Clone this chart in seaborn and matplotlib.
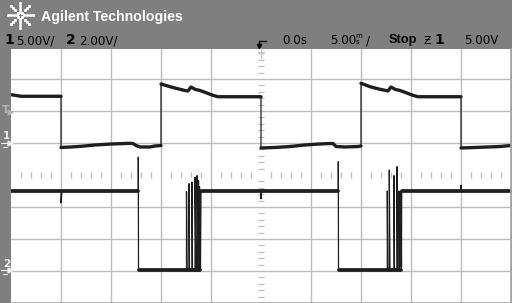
import numpy as np
import pandas as pd
import matplotlib
matplotlib.use("Agg")
import matplotlib.pyplot as plt
import seaborn as sns

# ---------------- data ----------------
# time in ms (5 ms/div, screen spans -25 .. 25 ms)
ch1_t = [-25, -24, -20, -20, -19, -18, -16.6, -15, -14.1, -13.1, -12.8, -12.5, -12.1, -11.1, -10.6, -10,
         -10, -9.1, -8.1, -7.6, -7.3, -7.0, -6.6, -6.1, -5.6, -4.9, -4.3, 0,
         0, 1.4, 2.9, 4.4, 5.4, 6.4, 7.2, 7.5, 8.4, 9.7, 10,
         10, 10.9, 11.9, 12.5, 12.7, 13.0, 13.4, 13.9, 14.4, 15.1, 15.7, 20,
         20, 21.9, 23.9, 25]
# channel 1 volts (5 V/div)
ch1_v = [7.55, 7.3, 7.3, -0.70, -0.62, -0.52, -0.31, -0.16, -0.11, -0.05, -0.08, -0.39, -0.62, -0.62, -0.47, -0.39,
         9.22, 8.80, 8.39, 8.20, 8.13, 8.75, 8.39, 8.20, 7.92, 7.50, 7.23, 7.23,
         -0.78, -0.70, -0.55, -0.31, -0.20, -0.11, -0.08, -0.55, -0.62, -0.55, -0.47,
         9.33, 8.80, 8.39, 8.20, 8.13, 8.75, 8.39, 8.20, 7.92, 7.50, 7.23, 7.23,
         -0.78, -0.67, -0.55, -0.39]

ch2_t = [-25, -20, -20, -19.9, -12.27, -12.27, -12.25,
         -7.45, -7.45, -7.4, -7.2, -7.2, -7.15, -6.9, -6.9, -6.85, -6.6, -6.6, -6.5,
         -6.4, -6.4, -6.3, -6.25, -6.25, -6.2, -6.15, -6.15, -6.05, -6.0,
         0, 0, 0.05, 7.73, 7.73, 7.75,
         12.63, 12.63, 12.68, 12.83, 12.83, 12.9, 13.3, 13.3, 13.35, 13.6, 13.6, 13.65,
         13.8, 13.8, 13.85, 14.0, 14.0, 14.05, 14.07, 20, 20, 20.05, 25]
# channel 2 volts (2 V/div)
ch2_v = [4.94, 4.94, 4.2, 4.94, 4.94, 7.06, 0.0,
         0.0, 4.9, 0.0, 0.0, 5.4, 0.0, 0.0, 5.5, 0.0, 0.0, 5.8, 0.0,
         0.0, 5.9, 0.0, 0.0, 5.6, 0.0, 0.0, 5.2, 0.0, 4.94,
         4.94, 4.45, 4.94, 4.94, 6.77, 0.0,
         0.0, 4.94, 0.0, 0.0, 6.25, 0.0, 0.0, 5.9, 0.0, 0.0, 6.46, 0.0,
         0.0, 4.94, 0.0, 0.0, 4.94, 0.2, 4.94, 4.94, 5.3, 4.94, 4.94]

ch1_scale, ch1_ground = 5.0, 1.0      # V/div, ground position (div)
ch2_scale, ch2_ground = 2.0, -2.97

header_left = ["1", "5.00V/", "2", "2.00V/"]
header_right = ["0.0s", "5.00", "m", "s", "/", "Stop", "1", "5.00V"]

# ---------------- helpers ----------------
W, H = 512, 303
def fx(x): return x / W
def fy(y): return 1 - y / H

def frame(t, v, scale, ground):
    df = pd.DataFrame({"t": t, "v": v})
    df["d"] = df["v"] / scale + ground
    dt = df["t"].diff().fillna(1.0)
    dd = df["d"].diff().abs().fillna(0.0)
    edge = (dt < 0.12) & (dd > 0.08)
    df["seg"] = edge.cumsum()
    return df

d1 = frame(ch1_t, ch1_v, ch1_scale, ch1_ground)
d2 = frame(ch2_t, ch2_v, ch2_scale, ch2_ground)

# ---------------- figure ----------------
sns.set_theme(style="white")
plt.rcParams["font.family"] = ["DejaVu Sans"]
GRAY = "#7f7f7f"
fig = plt.figure(figsize=(W / 100, H / 100), dpi=100, facecolor=GRAY)
ax = fig.add_axes([fx(11), 0, 500 / W, 254 / H])
ax.set_facecolor("white")
ax.set_xlim(-25, 25)
ax.set_ylim(-4, 4 - 2 / 32)

# graticule
ax.set_xticks([-20, -15, -10, -5, 5, 10, 15, 20])
ax.set_yticks([-3, -2, -1, 1, 2, 3])
ax.grid(True, color="#bcbcbc", lw=1.0)
ax.tick_params(length=0, labelbottom=False, labelleft=False)
for s in ["left", "top"]:
    ax.spines[s].set_visible(False)
for s in ["bottom", "right"]:
    ax.spines[s].set_color("#a8a8a8")
    ax.spines[s].set_linewidth(1.2)

tx = [t for t in range(-24, 25) if t % 5 != 0]
ax.plot(tx, [0] * len(tx), ls="none", marker="|", ms=4.5, mew=0.9, color="#bcbcbc", zorder=1)
ty = [k / 5 for k in range(-20, 20) if k % 5 != 0]
ax.plot([0] * len(ty), ty, ls="none", marker="_", ms=4.5, mew=0.9, color="#bcbcbc", zorder=1)

TRACE = "#1e1e1e"
# thin full traces (edges)
for df in (d1, d2):
    sns.lineplot(data=df, x="t", y="d", sort=False, estimator=None, color=TRACE, lw=0.9, ax=ax, legend=False)
# thick flat levels
sns.lineplot(data=d1, x="t", y="d", units="seg", sort=False, estimator=None, color=TRACE, lw=2.4, ax=ax, legend=False)
sns.lineplot(data=d2, x="t", y="d", units="seg", sort=False, estimator=None, color=TRACE, lw=2.7, ax=ax, legend=False)
ax.set_xlabel("")
ax.set_ylabel("")

# ---------------- header ----------------
# logo starburst
dots_x, dots_y = [], []
for k in range(8):
    a = np.deg2rad(45 * k)
    for r in (3.5, 6.5, 9.5, 12.5):
        dots_x.append(fx(20 + r * np.cos(a)))
        dots_y.append(fy(15 - r * np.sin(a)))
fig.add_artist(plt.Line2D(dots_x, dots_y, ls="none", marker="s", ms=1.1, color="white",
                          transform=fig.transFigure))
fig.text(fx(41), fy(16.5), "Agilent Technologies", family="Liberation Sans", weight="bold",
         fontsize=10.2, color="white", va="center", ha="left")

row = fy(40.5)
fig.text(fx(4), row, header_left[0], weight="bold", fontsize=10, color="black", va="center")
fig.text(fx(16), row, header_left[1], fontsize=8.6, color="black", va="center")
fig.text(fx(66), row, header_left[2], weight="bold", fontsize=10, color="black", va="center")
fig.text(fx(79), row, header_left[3], fontsize=8.6, color="black", va="center")

fig.text(fx(282), row, header_right[0], fontsize=8.6, color="black", va="center")
fig.text(fx(330), row, header_right[1], fontsize=8.6, color="black", va="center")
fig.text(fx(355), fy(36.5), header_right[2], fontsize=5, color="black", va="center")
fig.text(fx(356), fy(42.5), header_right[3], fontsize=5, color="black", va="center")
fig.text(fx(366), row, header_right[4], fontsize=8.6, color="black", va="center")
fig.text(fx(389), row, header_right[5], family="Liberation Sans", weight="bold", fontsize=9.2,
         color="black", va="center")
fig.text(fx(423), row, "Ƶ", fontsize=8, color="black", va="center")
fig.text(fx(434), row, header_right[6], weight="bold", fontsize=10, color="black", va="center")
fig.text(fx(464), row, header_right[7], fontsize=8.6, color="black", va="center")

# trigger-point icon (drawn)
fig.add_artist(plt.Line2D([fx(259), fx(266)], [fy(41), fy(41)], color="black", lw=1.0))
fig.add_artist(plt.Line2D([fx(259), fx(259)], [fy(41), fy(47)], color="black", lw=1.0))
fig.add_artist(plt.Line2D([fx(259)], [fy(46)], marker="v", ms=3, color="black", ls="none"))
fig.add_artist(plt.Line2D([fx(261), fx(261)], [fy(48), fy(58)], color="#c8c8c8", lw=1.0))
fig.add_artist(plt.Line2D([fx(258), fx(264)], [fy(52), fy(52)], color="#c8c8c8", lw=1.0))

# left channel markers
fig.text(fx(2), fy(110), "T", fontsize=8, weight="bold", color="#b0b0b0", va="center")
fig.add_artist(plt.Line2D([fx(9.5)], [fy(112)], marker=">", ms=3.5, color="#b0b0b0", ls="none"))
fig.text(fx(3), fy(136), "1", fontsize=7.5, weight="bold", color="#f0f0f0", va="center")
fig.add_artist(plt.Line2D([fx(1), fx(10)], [fy(143), fy(143)], color="#f0f0f0", lw=0.8))
fig.add_artist(plt.Line2D([fx(9.5)], [fy(143)], marker=">", ms=3.5, color="#f0f0f0", ls="none"))
fig.add_artist(plt.Line2D([fx(3), fx(7)], [fy(146.5), fy(146.5)], color="#f0f0f0", lw=0.7))
fig.text(fx(3), fy(264), "2", fontsize=7.5, weight="bold", color="#f0f0f0", va="center")
fig.add_artist(plt.Line2D([fx(1), fx(10)], [fy(270), fy(270)], color="#f0f0f0", lw=0.8))
fig.add_artist(plt.Line2D([fx(9.5)], [fy(270)], marker=">", ms=3.5, color="#f0f0f0", ls="none"))
fig.add_artist(plt.Line2D([fx(3), fx(7)], [fy(273.5), fy(273.5)], color="#f0f0f0", lw=0.7))

fig.savefig("out.png", dpi=100, facecolor=GRAY)
